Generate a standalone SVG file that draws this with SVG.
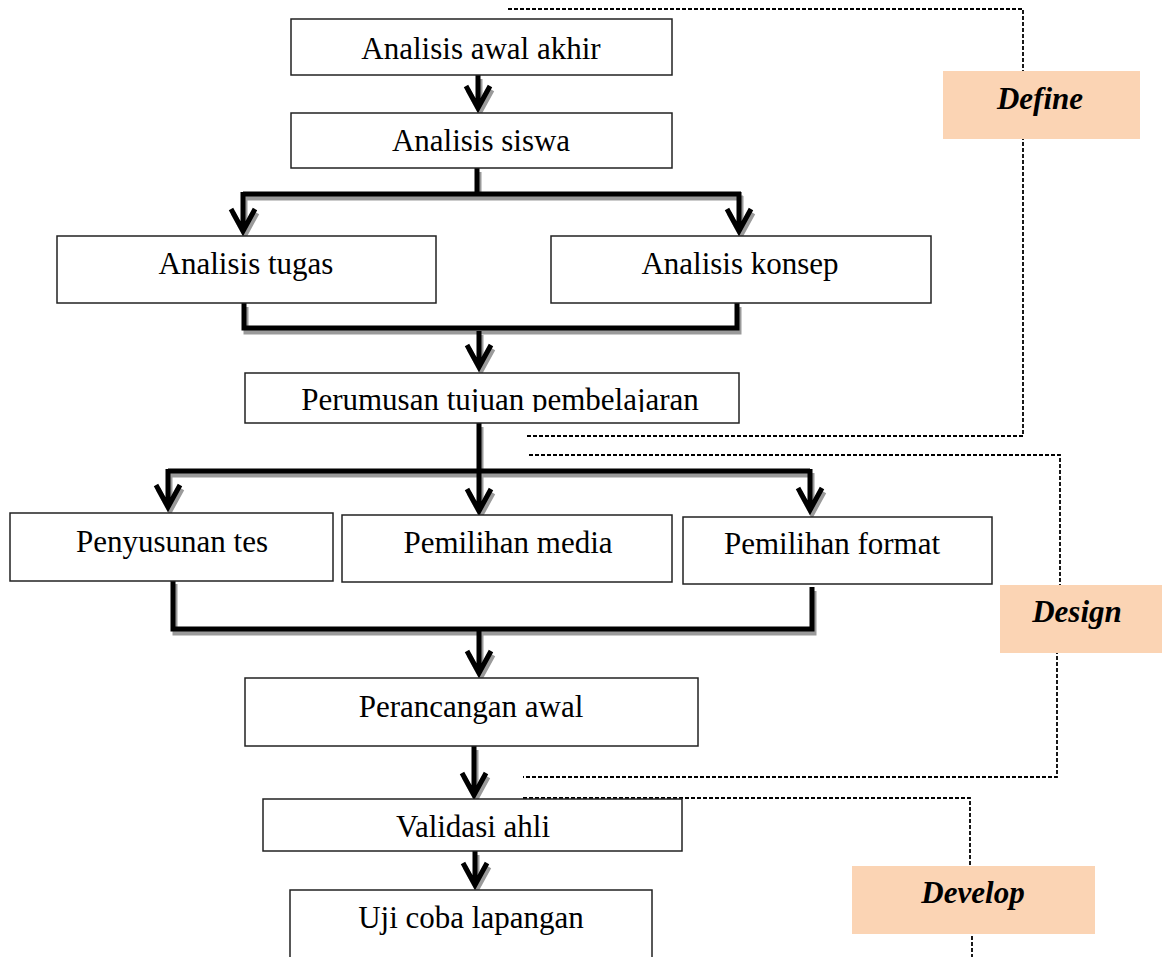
<svg xmlns="http://www.w3.org/2000/svg" xmlns:xlink="http://www.w3.org/1999/xlink" width="1162" height="957" viewBox="0 0 1162 957">
<style>
.box{fill:#fff;stroke:#222;stroke-width:1.5}
.t{font-family:"Liberation Serif","Times New Roman",serif;font-size:31px;fill:#000;text-anchor:middle}
.lt{font-family:"Liberation Serif","Times New Roman",serif;font-size:31px;font-weight:bold;font-style:italic;fill:#000;text-anchor:middle}
.lab{fill:#FBD4B4;stroke:none}
.dash{fill:none;stroke:#000;stroke-width:1.8;stroke-dasharray:4 2}
.main{fill:none;stroke:#000;stroke-width:5;stroke-linejoin:miter;stroke-linecap:butt}
.shadow{fill:none;stroke:#9a9a9a;stroke-width:5;stroke-linejoin:miter}
</style>
<defs>
<clipPath id="clipPer"><rect x="245" y="373" width="494" height="39"/></clipPath>
</defs>
<rect width="1162" height="957" fill="#fff"/>

<g id="phases">
<path class="dash" d="M508,9 H1023 V436 H527"/>
<path class="dash" d="M529,455 H1060 V620 M1057,620 V777 H523"/>
<path class="dash" d="M523,798 H970 V900 M972,900 V957"/>
</g>

<g id="connectors">
<use xlink:href="#links" href="#links" class="shadow" transform="translate(2,4)"/>
<g class="main">
<g id="links">
<path d="M478,75 V106 M466,86 L478,108 L490,86"/>
<path d="M477,168 V196 M243,194 H741"/>
<path d="M243,192 V229 M231,209 L243,231 L255,209"/>
<path d="M739,192 V229 M727,209 L739,231 L751,209"/>
<path d="M244,303 V328 H737 V303"/>
<path d="M479,331 V365 M467,345 L479,367 L491,345"/>
<path d="M168,471 H810"/>
<path d="M168,469 V505 M156,485 L168,507 L180,485"/>
<path d="M479,423 V509 M467,489 L479,511 L491,489"/>
<path d="M810,469 V508 M798,488 L810,510 L822,488"/>
<path d="M173,580 V629 H812 V587"/>
<path d="M479,631 V671 M467,651 L479,673 L491,651"/>
<path d="M474,746 V793 M462,773 L474,795 L486,773"/>
<path d="M475,851 V883 M463,863 L475,885 L487,863"/>
</g>
</g>
</g>

<g id="n-awal"><rect class="box" x="291" y="19" width="381" height="56"/><text class="t" x="481" y="59">Analisis awal akhir</text></g>
<g id="n-siswa"><rect class="box" x="291" y="113" width="381" height="55"/><text class="t" x="481" y="151">Analisis siswa</text></g>
<g id="n-tugas"><rect class="box" x="57" y="236" width="379" height="67"/><text class="t" x="246" y="274">Analisis tugas</text></g>
<g id="n-konsep"><rect class="box" x="551" y="236" width="380" height="67"/><text class="t" x="740" y="274">Analisis konsep</text></g>
<g id="n-perumusan"><rect class="box" x="245" y="373" width="494" height="50"/><text class="t" x="500" y="410" clip-path="url(#clipPer)">Perumusan tujuan pembelajaran</text></g>
<g id="n-tes"><rect class="box" x="10" y="513" width="323" height="68"/><text class="t" x="172" y="552">Penyusunan tes</text></g>
<g id="n-media"><rect class="box" x="342" y="515" width="330" height="67"/><text class="t" x="508" y="553">Pemilihan media</text></g>
<g id="n-format"><rect class="box" x="683" y="517" width="309" height="67"/><text class="t" x="832" y="554">Pemilihan format</text></g>
<g id="n-rancang"><rect class="box" x="245" y="678" width="453" height="68"/><text class="t" x="471" y="717">Perancangan awal</text></g>
<g id="n-validasi"><rect class="box" x="263" y="799" width="419" height="52"/><text class="t" x="473" y="837">Validasi ahli</text></g>
<g id="n-uji"><rect class="box" x="290" y="890" width="362" height="80"/><text class="t" x="471" y="928">Uji coba lapangan</text></g>

<g id="l-define"><rect class="lab" x="943" y="71" width="197" height="68"/><text class="lt" x="1040" y="109">Define</text></g>
<g id="l-design"><rect class="lab" x="1000" y="585" width="162" height="68"/><text class="lt" x="1077" y="622">Design</text></g>
<g id="l-develop"><rect class="lab" x="852" y="866" width="243" height="68"/><text class="lt" x="973" y="903">Develop</text></g>
</svg>
